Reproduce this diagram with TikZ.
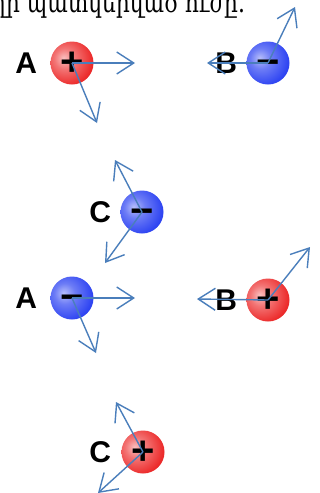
\documentclass[tikz,border=0pt]{standalone}
\usepackage{fontspec}
\usepackage{xcolor}
\usepackage{graphicx}
\usetikzlibrary{arrows.meta,positioning}
\newfontfamily\armfont{DejaVu Serif}
\newfontfamily\lblfont{Liberation Sans}
\definecolor{forceblue}{HTML}{4A7EBB}
\definecolor{chgred}{HTML}{EC2A2A}
\definecolor{chgblue}{HTML}{2E44F2}
\pgfdeclareradialshading{redball}{\pgfpoint{-10bp}{6bp}}{%
  color(0bp)=(chgred!30!white); color(12bp)=(chgred!65!white);
  color(30bp)=(chgred); color(52bp)=(chgred!80!black); color(80bp)=(chgred!60!black)}
\pgfdeclareradialshading{blueball}{\pgfpoint{-10bp}{6bp}}{%
  color(0bp)=(chgblue!35!white); color(12bp)=(chgblue!70!white);
  color(30bp)=(chgblue); color(52bp)=(chgblue!80!black); color(80bp)=(chgblue!60!black)}
\tikzset{
  chg/.style    ={circle, inner sep=0pt, minimum size=43pt, text=black,
                  text height=25.6pt, text depth=0pt,
                  font=\lblfont\bfseries\fontsize{40}{40}\selectfont},
  chgpos/.style ={chg, shading=redball},
  chgneg/.style ={chg, shading=blueball},
  lbl/.style    ={font=\lblfont\bfseries\fontsize{30}{30}\selectfont, inner sep=1pt},
  armtxt/.style ={font=\armfont\fontsize{28}{28}\selectfont, inner sep=0pt},
  fv/.style     ={draw=forceblue, line width=1.4pt,
                  -{Straight Barb[length=17pt,width=22pt]}},
}

\begin{document}
\begin{tikzpicture}[x=1pt,y=-1pt]
  \clip (0,0) rectangle (320,493);
  \fill[white] (0,0) rectangle (320,493);
  \node[armtxt,anchor=base west] (qtxt) at (-8,12) {\scalebox{0.78}[1]{ղի պատկերված ուժը.}};
  % first case
  \node[chgpos] (a1) at (72,63) {+};
  \node[lbl,left=12pt of a1] (la1) {A};
  \node[chgneg] (b1) at (268,63) {−};
  \node[lbl,left=8pt of b1] (lb1) {B};
  \node[chgneg] (c1) at (142,212) {−};
  \node[lbl,left=8pt of c1] (lc1) {C};
  % second case
  \node[chgneg] (a2) at (72,298) {−};
  \node[lbl,left=12pt of a2] (la2) {A};
  \node[chgpos] (b2) at (268,300) {+};
  \node[lbl,left=8pt of b2] (lb2) {B};
  \node[chgpos] (c2) at (143,452) {+};
  \node[lbl,left=9pt of c2] (lc2) {C};
  % arrow ends
  \coordinate (a1r) at (135,63);
  \coordinate (a1d) at (97,123);
  \coordinate (b1l) at (207,63);
  \coordinate (b1u) at (295,7);
  \coordinate (c1u) at (115,160);
  \coordinate (c1d) at (105,263);
  \coordinate (a2r) at (135,298);
  \coordinate (a2d) at (96,353);
  \coordinate (b2l) at (197,299);
  \coordinate (b2u) at (310,247);
  \coordinate (c2u) at (116,402);
  \coordinate (c2d) at (98,493);
  \draw[fv] (a1.center) -- (a1r);
  \draw[fv] (a1.center) -- (a1d);
  \draw[fv] (b1.center) -- (b1l);
  \draw[fv] (b1.center) -- (b1u);
  \draw[fv] (c1.center) -- (c1u);
  \draw[fv] (c1.center) -- (c1d);
  \draw[fv] (a2.center) -- (a2r);
  \draw[fv] (a2.center) -- (a2d);
  \draw[fv] (b2.center) -- (b2l);
  \draw[fv] (b2.center) -- (b2u);
  \draw[fv] (c2.center) -- (c2u);
  \draw[fv] (c2.center) -- (c2d);
\end{tikzpicture}
\end{document}
